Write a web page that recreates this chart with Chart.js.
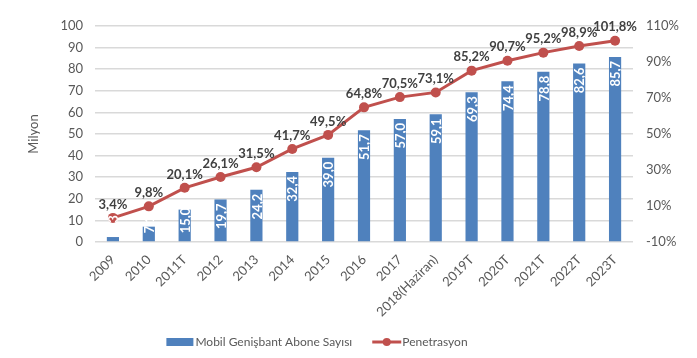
<!DOCTYPE html>
<html><head><meta charset="utf-8">
<script src="https://cdn.jsdelivr.net/npm/chart.js@4/dist/chart.umd.min.js"></script>
<style>html,body{margin:0;padding:0;background:#fff}</style>
</head><body>
<canvas id="c" width="697" height="358"></canvas>
<script>
const categories = ['2009','2010','2011T','2012','2013','2014','2015','2016','2017','2018(Haziran)','2019T','2020T','2021T','2022T','2023T'];
const subscribers = [2.3, 7.1, 15.0, 19.7, 24.2, 32.4, 39.0, 51.7, 57.0, 59.1, 69.3, 74.4, 78.8, 82.6, 85.7];
const penetration = [3.4, 9.8, 20.1, 26.1, 31.5, 41.7, 49.5, 64.8, 70.5, 73.1, 85.2, 90.7, 95.2, 98.9, 101.8];
const seriesNames = ['Mobil Genişbant Abone Sayısı', 'Penetrasyon'];
const axisTitle = 'Milyon';

const FONT = 'Lato, "Open Sans", sans-serif';
const BAR_COLOR = '#4f81bd';
const LINE_COLOR = '#c0504d';
const fmt = v => v.toFixed(1).replace('.', ',');

const labelPlugin = {
  id: 'labels',
  afterDatasetsDraw(chart) {
    const ctx = chart.ctx;
    const barMeta = chart.getDatasetMeta(0);
    ctx.save();
    ctx.font = 'bold 13px ' + FONT;
    ctx.fillStyle = '#ffffff';
    ctx.textBaseline = 'middle';
    barMeta.data.forEach((bar, i) => {
      const txt = fmt(subscribers[i]);
      const w = ctx.measureText(txt).width;
      const h = bar.base - bar.y;
      ctx.save();
      if (w + 8 > h) {
        ctx.translate(bar.x, bar.base - 8);
        ctx.textAlign = 'left';
      } else {
        ctx.translate(bar.x, bar.y + 4);
        ctx.textAlign = 'right';
      }
      ctx.rotate(-Math.PI / 2);
      ctx.fillText(txt, 0, 1);
      ctx.restore();
    });
    const meta = chart.getDatasetMeta(1);
    ctx.fillStyle = '#404040';
    ctx.textAlign = 'center';
    ctx.textBaseline = 'bottom';
    meta.data.forEach((pt, i) => {
      ctx.fillText(fmt(penetration[i]) + '%', pt.x, pt.y - 7);
    });
    ctx.restore();
  },
  afterDraw(chart) {
    const ctx = chart.ctx;
    ctx.save();
    const y = 342;
    ctx.font = '12px ' + FONT;
    const w1 = ctx.measureText(seriesNames[0]).width;
    const w2 = ctx.measureText(seriesNames[1]).width;
    const total = 27 + 2 + w1 + 20 + 29 + 1 + w2;
    let x = 317 - total / 2;
    ctx.fillStyle = BAR_COLOR;
    ctx.fillRect(x, y - 4, 27, 8);
    x += 29;
    ctx.fillStyle = '#595959';
    ctx.textAlign = 'left';
    ctx.textBaseline = 'middle';
    ctx.fillText(seriesNames[0], x, y);
    x += w1 + 20;
    ctx.strokeStyle = LINE_COLOR;
    ctx.lineWidth = 3;
    ctx.beginPath(); ctx.moveTo(x, y); ctx.lineTo(x + 29, y); ctx.stroke();
    ctx.fillStyle = LINE_COLOR;
    ctx.beginPath(); ctx.arc(x + 14.5, y, 4, 0, Math.PI * 2); ctx.fill();
    x += 30;
    ctx.fillStyle = '#595959';
    ctx.fillText(seriesNames[1], x, y);
    ctx.restore();
  }
};

new Chart(document.getElementById('c'), {
  data: {
    labels: categories,
    datasets: [
      { type: 'bar', label: seriesNames[0], data: subscribers, backgroundColor: BAR_COLOR,
        barPercentage: 0.34, categoryPercentage: 1, yAxisID: 'y', order: 1 },
      { type: 'line', label: seriesNames[1], data: penetration, borderColor: LINE_COLOR,
        backgroundColor: LINE_COLOR, borderWidth: 3, pointRadius: 5, pointBackgroundColor: LINE_COLOR,
        pointBorderWidth: 0, tension: 0, yAxisID: 'y2', order: 0 }
    ]
  },
  options: {
    responsive: false,
    animation: false,
    devicePixelRatio: 1,
    layout: { padding: { top: 26, left: 0, right: 0, bottom: 0 } },
    plugins: { legend: { display: false }, tooltip: { enabled: false } },
    scales: {
      x: {
        grid: { display: false },
        border: { display: false },
        ticks: { color: '#595959', font: { family: FONT, size: 13 }, minRotation: 45, maxRotation: 45, padding: 2, autoSkip: false },
        afterFit(s) { s.height = 116; }
      },
      y: {
        position: 'left', min: 0, max: 100,
        ticks: { stepSize: 10, color: '#595959', font: { family: FONT, size: 13 }, padding: 12 },
        grid: { color: '#d9d9d9', lineWidth: 1.5, drawTicks: false },
        border: { display: false },
        title: { display: true, text: axisTitle, color: '#595959', font: { family: FONT, size: 13 }, padding: { top: 26, bottom: 0 } },
        afterFit(s) { s.width = 95; }
      },
      y2: {
        position: 'right', min: -10, max: 110,
        ticks: { stepSize: 20, color: '#595959', font: { family: FONT, size: 13 }, padding: 13, callback: v => v + '%' },
        grid: { display: false, drawTicks: false },
        border: { display: false },
        afterFit(s) { s.width = 64; }
      }
    }
  },
  plugins: [labelPlugin]
});
</script>
</body></html>
